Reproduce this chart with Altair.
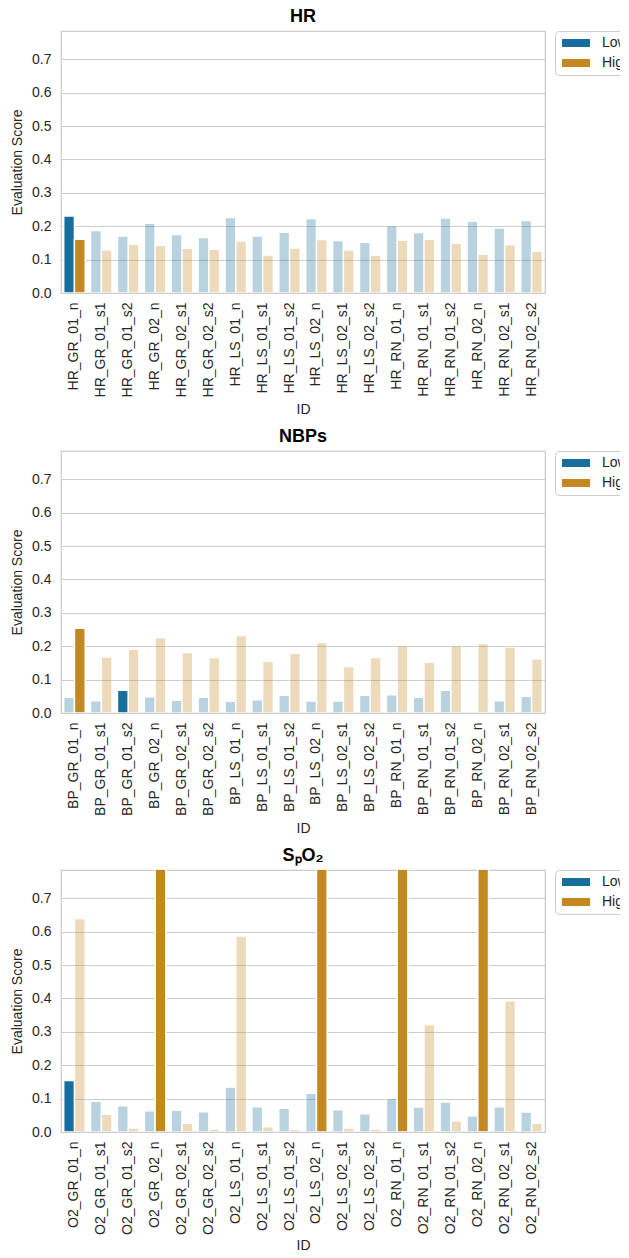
import altair as alt
import pandas as pd

suffixes = ["GR_01_n", "GR_01_s1", "GR_01_s2", "GR_02_n", "GR_02_s1", "GR_02_s2",
            "LS_01_n", "LS_01_s1", "LS_01_s2", "LS_02_n", "LS_02_s1", "LS_02_s2",
            "RN_01_n", "RN_01_s1", "RN_01_s2", "RN_02_n", "RN_02_s1", "RN_02_s2"]
levels = ["Low", "High"]
level_colors = ["#176D9C", "#C38820"]

# HR
hr_low = [0.231, 0.187, 0.171, 0.209, 0.175, 0.166, 0.226, 0.171, 0.182,
          0.223, 0.157, 0.152, 0.202, 0.181, 0.225, 0.215, 0.195, 0.217]
hr_high = [0.161, 0.129, 0.146, 0.143, 0.134, 0.131, 0.156, 0.114, 0.135,
           0.160, 0.129, 0.113, 0.158, 0.161, 0.149, 0.116, 0.145, 0.125]
hr_hl_low = ["GR_01_n"]
hr_hl_high = ["GR_01_n"]

# NBPs
bp_low = [0.047, 0.037, 0.068, 0.049, 0.038, 0.047, 0.035, 0.040, 0.053,
          0.036, 0.036, 0.053, 0.055, 0.047, 0.068, None, 0.037, 0.050]
bp_high = [0.254, 0.168, 0.191, 0.226, 0.181, 0.166, 0.232, 0.155, 0.179,
           0.211, 0.139, 0.166, 0.202, 0.152, 0.202, 0.208, 0.198, 0.162]
bp_hl_low = ["GR_01_s2"]
bp_hl_high = ["GR_01_n"]

# SpO2
o2_low = [0.154, 0.092, 0.079, 0.064, 0.065, 0.061, 0.135, 0.076, 0.071,
          0.116, 0.067, 0.055, 0.100, 0.075, 0.090, 0.049, 0.076, 0.060]
o2_high = [0.640, 0.053, 0.012, 1.000, 0.026, 0.009, 0.587, 0.016, 0.008,
           1.000, 0.012, 0.009, 1.000, 0.322, 0.033, 1.000, 0.393, 0.026]
o2_hl_low = ["GR_01_n"]
o2_hl_high = ["GR_02_n", "LS_02_n", "RN_01_n", "RN_02_n"]

y_ticks = [0.0, 0.1, 0.2, 0.3, 0.4, 0.5, 0.6, 0.7]

FONT = "Liberation Sans"
TXT = "#262626"

rect_path = "M-2.8,-0.8H2.8V0.8H-2.8Z"


def panel(prefix, title, low, high, hl_low, hl_high, id_pad):
    rows = []
    ids = [f"{prefix}_{s}" for s in suffixes]
    for s, i, lo, hi in zip(suffixes, ids, low, high):
        if lo is not None:
            rows.append({"ID": i, "Level": "Low", "Score": lo,
                         "op": 1.0 if s in hl_low else 0.3})
        if hi is not None:
            rows.append({"ID": i, "Level": "High", "Score": hi,
                         "op": 1.0 if s in hl_high else 0.3})
    df = pd.DataFrame(rows)
    return alt.Chart(df, title=alt.Title(title, fontSize=18, fontWeight="bold",
                                         color="black", font=FONT, offset=5)).mark_bar(
        stroke="white", strokeWidth=1.5, clip=True
    ).encode(
        x=alt.X("ID:N", sort=ids, title="ID",
                scale=alt.Scale(paddingInner=0.2, paddingOuter=0.1),
                axis=alt.Axis(labelAngle=-90, labelFontSize=14, labelPadding=9,
                              ticks=False, domain=False, grid=False,
                              titleFontSize=14, titleFontWeight="normal",
                              titlePadding=id_pad, labelColor=TXT, titleColor=TXT)),
        xOffset=alt.XOffset("Level:N", sort=levels, scale=alt.Scale(domain=levels)),
        y=alt.Y("Score:Q", title="Evaluation Score",
                scale=alt.Scale(domain=[0, 0.785], nice=False),
                axis=alt.Axis(values=y_ticks, format=".1f", labelFontSize=14,
                              labelPadding=10, ticks=False, domain=False,
                              grid=True, gridColor="#cccccc", gridWidth=1,
                              titleFontSize=14, titleFontWeight="normal",
                              titlePadding=7, labelColor=TXT, titleColor=TXT)),
        color=alt.Color("Level:N", sort=levels,
                        scale=alt.Scale(domain=levels, range=level_colors),
                        legend=alt.Legend(title=None, orient="right", offset=10,
                                          padding=5, strokeColor="#cccccc",
                                          cornerRadius=4, fillColor="white",
                                          symbolType=rect_path, symbolSize=100,
                                          symbolStrokeWidth=0, symbolOffset=9,
                                          symbolOpacity=1,
                                          labelOffset=19, labelFontSize=14,
                                          labelFont=FONT, labelColor=TXT,
                                          rowPadding=6)),
        opacity=alt.Opacity("op:Q", scale=None, legend=None),
    ).properties(width=484, height=262)


c1 = panel("HR", "HR", hr_low, hr_high, hr_hl_low, hr_hl_high, 6)
c2 = panel("BP", "NBPs", bp_low, bp_high, bp_hl_low, bp_hl_high, 6)
c3 = panel("O2", "S\u209aO\u2082", o2_low, o2_high, o2_hl_low, o2_hl_high, 4)

chart = alt.vconcat(c1, c2, c3, spacing=8).resolve_legend(
    color="independent"
).properties(
    padding={"left": 1, "top": -2, "right": -18, "bottom": -3}
).configure(font=FONT).configure_view(stroke="#cccccc", strokeWidth=1.25)

chart.save("out.html", embed_options={"renderer": "svg", "actions": False})
